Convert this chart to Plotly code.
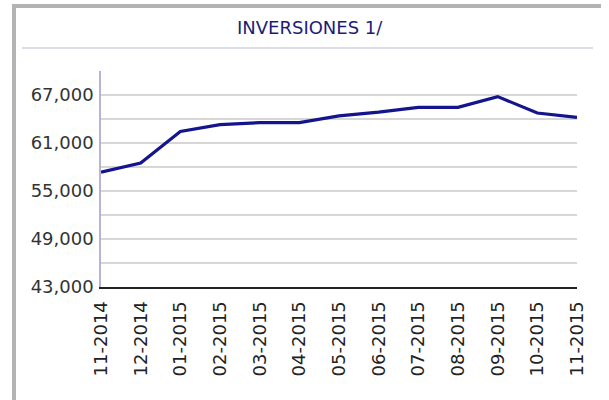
import plotly.graph_objects as go

meses = ["11-2014", "12-2014", "01-2015", "02-2015", "03-2015", "04-2015", "05-2015",
         "06-2015", "07-2015", "08-2015", "09-2015", "10-2015", "11-2015"]
inversiones = [57350, 58500, 62450, 63290, 63540, 63540, 64400,
               64850, 65450, 65450, 66800, 64750, 64200]
etiquetas_y = [43000, 49000, 55000, 61000, 67000]

W, H = 609, 400
L, R, T, B = 101, 577, 71, 287


def px_x(p):
    return (p - L) / (R - L)


def px_y(p):
    return (B - p) / (B - T)


fig = go.Figure()
fig.add_trace(go.Scatter(x=meses, y=inversiones, mode="lines",
                         line=dict(color="#14148c", width=3.2)))

fig.update_layout(
    width=W, height=H,
    margin=dict(l=L, r=W - R, t=T, b=H - B),
    paper_bgcolor="white", plot_bgcolor="white",
    showlegend=False,
    font=dict(family="DejaVu Sans", size=18, color="#333333"),
    shapes=[
        # marco gris
        dict(type="line", xref="paper", yref="paper", x0=px_x(12), x1=px_x(601),
             y0=px_y(6), y1=px_y(6), line=dict(color="#b3b3b3", width=4)),
        dict(type="line", xref="paper", yref="paper", x0=px_x(14), x1=px_x(14),
             y0=px_y(4), y1=px_y(400), line=dict(color="#b3b3b3", width=4)),
        # separador bajo el titulo
        dict(type="line", xref="paper", yref="paper", x0=px_x(22), x1=px_x(593),
             y0=px_y(48), y1=px_y(48), line=dict(color="#dcdcea", width=2)),
    ],
    annotations=[
        dict(text="INVERSIONES 1/", xref="paper", yref="paper", x=px_x(310), y=px_y(28),
             showarrow=False, xanchor="center", yanchor="middle",
             font=dict(family="DejaVu Sans", size=18, color="#1c1c78")),
    ],
)

fig.update_xaxes(
    type="category", range=[0, len(meses) - 1],
    tickangle=-90, showgrid=False, ticks="",
    showline=True, linecolor="#222222", linewidth=2,
    tickfont=dict(size=18, color="#222222"),
    ticklabelstandoff=5,
)
fig.update_yaxes(
    range=[43000, 70000], tickvals=etiquetas_y, tickformat=",d",
    showgrid=True, gridcolor="#d6d6d6", gridwidth=1.5,
    minor=dict(tickvals=[46000, 52000, 58000, 64000, 70000],
               showgrid=True, gridcolor="#d6d6d6", gridwidth=1.5),
    showline=True, linecolor="#b4b4d8", linewidth=1.5,
    zeroline=False, ticks="",
    tickfont=dict(size=18, color="#333333"),
    ticklabelstandoff=2,
)

fig.write_html("out.html", config={"displayModeBar": False},
               post_script="document.body.style.margin='0';")
